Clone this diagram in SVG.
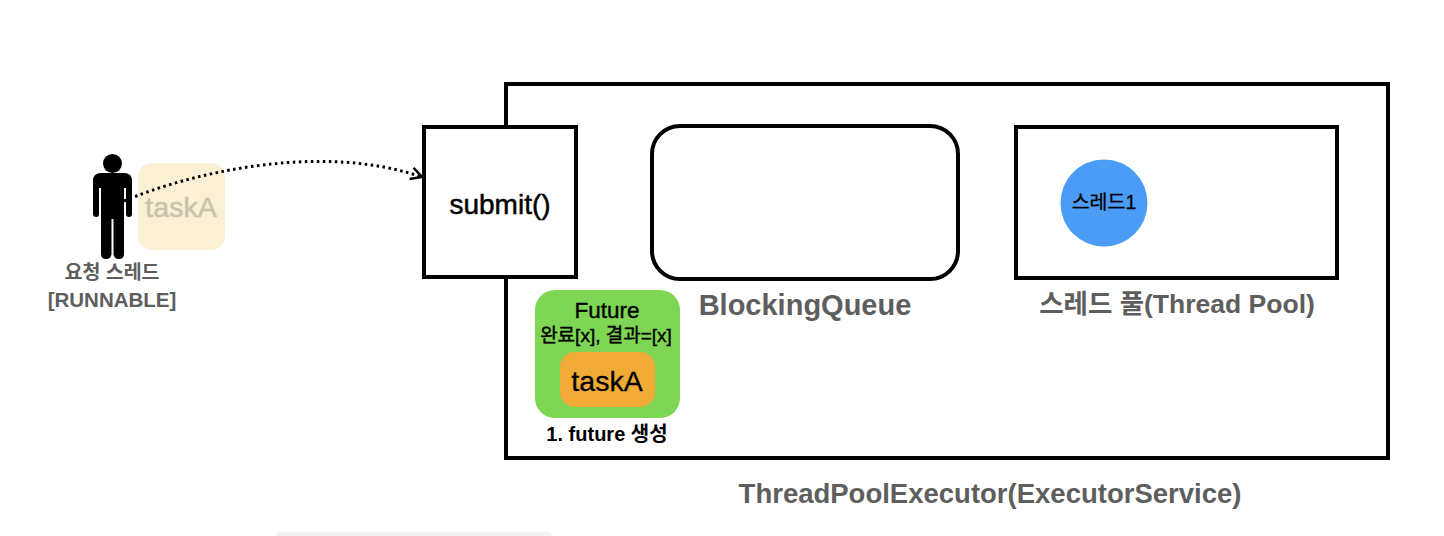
<svg xmlns="http://www.w3.org/2000/svg" width="1444" height="536" viewBox="0 0 1444 536">
<style>
text{font-family:"Liberation Sans","Noto Sans CJK KR",sans-serif;text-anchor:middle;}
.box{fill:#fff;stroke:#000;stroke-width:4}
.g{fill:#5e5e5e;font-weight:700}
.k{fill:#000}
</style>
<defs><marker id="arr" markerWidth="16" markerHeight="16" refX="13" refY="8" orient="auto" markerUnits="userSpaceOnUse"><path d="M2 2L13 8L2 14" fill="none" stroke="#000" stroke-width="2.500"/></marker></defs>
<rect width="1444" height="536" fill="#fff"/>
<rect x="276" y="532" width="276" height="8" rx="5" fill="#f2f2f3"/>
<g id="executor"><rect class="box" x="506" y="84" width="882" height="374"/><text class="g" x="990" y="503" font-size="27.500">ThreadPoolExecutor(ExecutorService)</text></g>
<g id="requester"><circle cx="112.500" cy="163.500" r="9.500" fill="#000"/>
<path d="M101 173H124Q132 173 132 181V214Q132 217 129 217Q126 217 126 214V188H124V254Q124 259 119 259Q114 259 113.500 254V219H111.500V254Q111 259 106 259Q101 259 101 254V188H99V214Q99 217 96.500 217Q93 217 93 214V181Q93 173 101 173Z" fill="#000"/>
<text class="g" x="112" y="279" font-size="19.500">요청 스레드</text><text class="g" x="112" y="307" font-size="20.500">[RUNNABLE]</text></g>
<g id="taskA-ghost"><rect x="138" y="163" width="87" height="87" rx="14" fill="#fbefd5"/><text x="181" y="217" font-size="28.500" fill="#c9c3ad" stroke="#c9c3ad" stroke-width=".5">taskA</text></g>
<g id="submit"><rect class="box" x="424" y="127" width="152" height="150"/><text class="k" x="500" y="214" font-size="28" stroke="#000" stroke-width=".5">submit()</text></g>
<g id="queue"><rect class="box" x="652" y="126" width="306" height="153" rx="28"/><text class="g" x="805" y="315" font-size="29">BlockingQueue</text></g>
<g id="pool"><rect class="box" x="1016" y="127" width="321" height="151"/><text class="g" x="1177" y="313" font-size="26.500">스레드 풀(Thread Pool)</text></g>
<g id="thread1"><circle cx="1104" cy="203" r="43.500" fill="#4a9cf6"/><text class="k" x="1104" y="209" font-size="19.500" stroke="#000" stroke-width=".3">스레드1</text></g>
<g id="future"><rect x="535" y="290" width="145" height="128" rx="20" fill="#7ed654"/><text class="k" x="607" y="318" font-size="22.500" stroke="#000" stroke-width=".4">Future</text><text class="k" x="606" y="342" font-size="19" stroke="#000" stroke-width=".4">완료[x], 결과=[x]</text></g>
<g id="taskA"><rect x="560" y="352" width="95" height="55" rx="15" fill="#f2ab37"/><text class="k" x="607" y="391" font-size="28.500" stroke="#000" stroke-width=".3">taskA</text></g>
<text id="future-label" class="k" x="607" y="441" font-size="20" font-weight="700">1. future 생성</text>
<g id="connectors"><path d="M124 201C190 173 320 142 422 177" fill="none" stroke="#000" stroke-width="3" stroke-dasharray="2.500 3.500" marker-end="url(#arr)"/></g>
</svg>
